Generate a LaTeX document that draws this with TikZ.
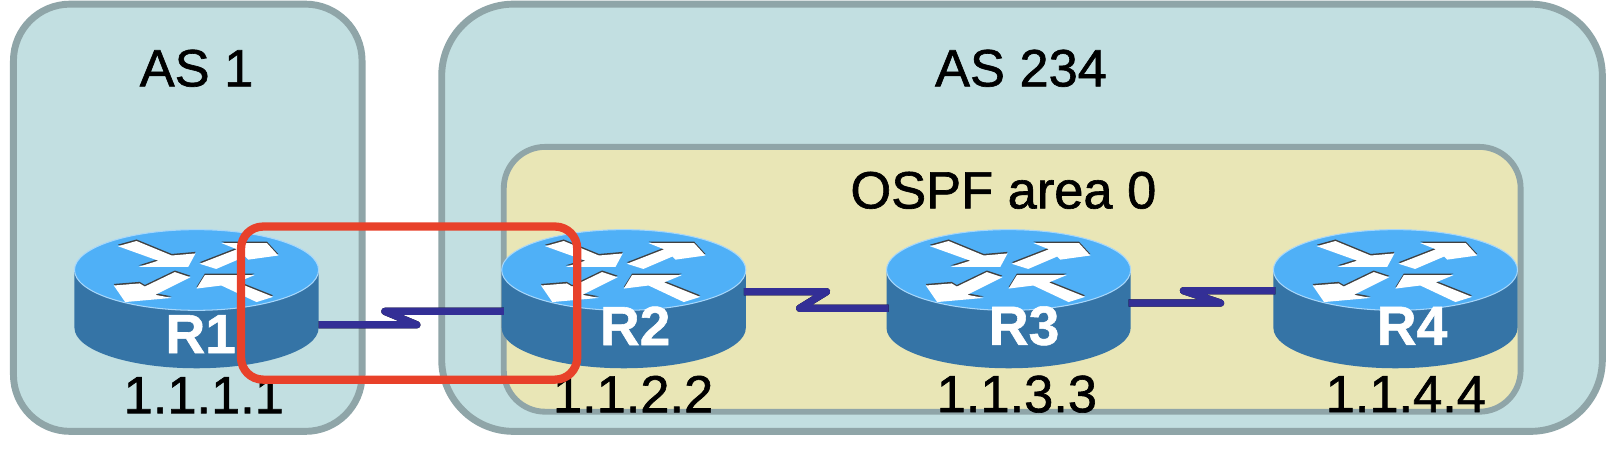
\documentclass[tikz,border=0pt]{standalone}
\usepackage{fontspec}
\setmainfont{Liberation Sans}
\newfontfamily\labelfont[FakeBold=1.2]{Liberation Sans}
\newfontfamily\namefont[FakeBold=1]{Liberation Sans Bold}
\definecolor{boxline}{RGB}{143,165,168}
\definecolor{asfill}{RGB}{194,223,225}
\definecolor{areafill}{RGB}{233,230,182}
\definecolor{routertop}{RGB}{79,176,247}
\definecolor{routerside}{RGB}{53,116,166}
\definecolor{serialblue}{RGB}{51,47,150}
\definecolor{markred}{RGB}{232,65,42}
\tikzset{every picture/.style={line width=0.75pt}}
\tikzset{
  asbox/.style={draw=boxline,line width=5pt,fill=asfill},
  areabox/.style={draw=boxline,line width=4.25pt,fill=areafill},
  boxlabel/.style={font=\fontsize{38}{38}\labelfont\selectfont,inner sep=0pt},
  routerlabel/.style={font=\fontsize{40}{40}\namefont\selectfont,text=white,inner sep=0pt},
  router/.pic={
    % side of the cylinder
    \fill [routerside] (-118,0) -- (-118,56) arc [start angle=180,end angle=0,x radius=118,y radius=39] -- (118,0) -- cycle;
    % top of the cylinder
    \fill [routertop,draw=routertop!50!white,line width=0.75pt] (0,0) ellipse [x radius=118,y radius=39];
    % four arrows, a dark edge first and white over it
    \foreach \dy/\arrowcol in {-1.5/black!75,0/white}{
      \fill [\arrowcol,yshift=\dy*0.75pt] (-76,-23) -- (-58,-28) -- (-24,-14) -- (-1,-16) -- (-8,-3) -- (-56,-3) -- (-37,-9) -- cycle;
      \fill [\arrowcol,yshift=\dy*0.75pt] (3,-6) -- (19,-1) -- (47,-13) -- (50,-10) -- (79,-14) -- (68,-26) -- (24,-26) -- (39,-20) -- cycle;
      \fill [\arrowcol,yshift=\dy*0.75pt] (-80,15) -- (-69,31) -- (-24,27) -- (-40,24) -- (-6,7) -- (-21,2) -- (-50,16) -- (-55,13) -- cycle;
      \fill [\arrowcol,yshift=\dy*0.75pt] (0,18) -- (8,5) -- (56,5) -- (39,12) -- (74,26) -- (58,31) -- (24,15) -- cycle;
    }
  }
}

\begin{document}
\begin{tikzpicture}[x=0.75pt,y=0.75pt,yscale=-1,xscale=1]
\useasboundingbox (0,0) rectangle (1568,435);
%Rounded Rect
\draw [asbox,rounded corners=41pt] (13,4) rectangle (350,417);
\draw [asbox,rounded corners=52pt] (427,4) rectangle (1549,417);
\draw [areabox,rounded corners=30pt] (487,142) rectangle (1470,398);
% Text Node
\node [boxlabel] (labelasone) at (190,66) {AS 1};
\node [boxlabel] (labelastwo) at (987,66) {AS 234};
\node [boxlabel] (labelarea) at (970,184) {OSPF area 0};
%Routers
\foreach \routerx in {190,603,975,1349}{
  \pic [transform shape] at (\routerx,261) {router};
}
% Text Node
\node [routerlabel] (nameone) at (194,323) {R1};
\node [routerlabel] (nametwo) at (614,315) {R2};
\node [routerlabel] (namethree) at (990,315) {R3};
\node [routerlabel] (namefour) at (1365,315) {R4};
\node [boxlabel] (addrone) at (197,382) {1.1.1.1};
\node [boxlabel] (addrtwo) at (612,381) {1.1.2.2};
\node [boxlabel] (addrthree) at (983,381) {1.1.3.3};
\node [boxlabel] (addrfour) at (1359,381) {1.1.4.4};
%Straight Lines
\coordinate (oneout) at (308,314);
\coordinate (twoin) at (487,301);
\coordinate (twoout) at (719,282);
\coordinate (threein) at (859,298);
\coordinate (threeout) at (1091,293);
\coordinate (fourin) at (1233,281);
\foreach \linefrom/\lineto/\zigone/\zigtwo in {oneout/twoin/403/372,twoout/threein/799/773,threeout/fourin/1180/1144}{
  \draw [black,line width=5.25pt,line join=round,yshift=1.5pt] (\linefrom) -- (\zigone,0 |- \linefrom) -- (\zigtwo,0 |- \lineto) -- (\lineto);
  \draw [serialblue,line width=5.25pt,line join=round] (\linefrom) -- (\zigone,0 |- \linefrom) -- (\zigtwo,0 |- \lineto) -- (\lineto);
}
%Rounded Rect
\draw [markred,line width=6pt,rounded corners=16pt] (233,219) rectangle (558,367);
\end{tikzpicture}
\end{document}
